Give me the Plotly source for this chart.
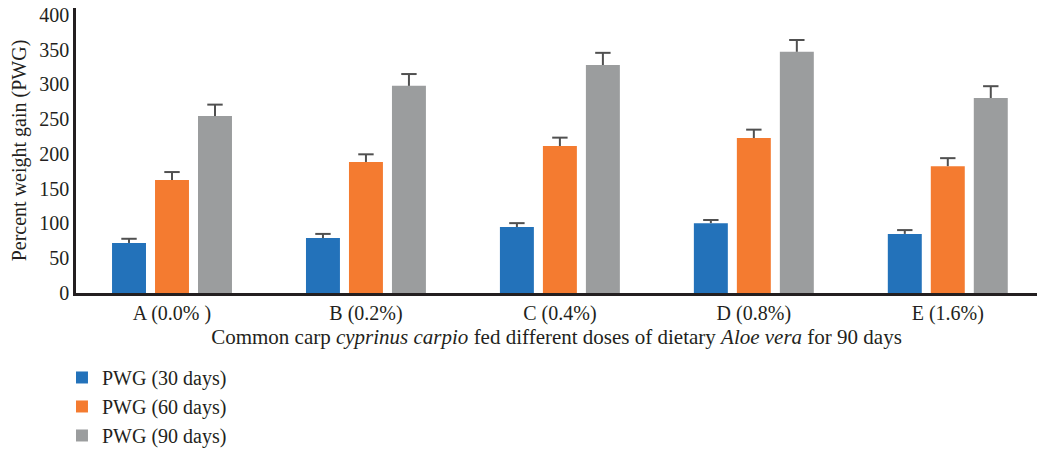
import plotly.graph_objects as go

categories = ["A (0.0% )", "B (0.2%)", "C (0.4%)", "D (0.8%)", "E (1.6%)"]
series_names = ["PWG (30 days)", "PWG (60 days)", "PWG (90 days)"]
pwg_30 = [72, 79, 95, 100.5, 85]
pwg_60 = [162.5, 188.5, 211.5, 223, 182.5]
pwg_90 = [254.5, 298, 328, 347, 280.5]
err_30 = [6, 6, 5.5, 4.5, 5.5]
err_60 = [11.5, 11, 12, 12, 11.5]
err_90 = [16.5, 17, 17.5, 17, 17]
colors = ["#2372BA", "#F47B30", "#9B9D9E"]

FONT = "Liberation Serif"
x_idx = list(range(len(categories)))
ERR_COLOR = "#505050"

fig = go.Figure()
for i, (name, vals, errs, col) in enumerate(zip(series_names, [pwg_30, pwg_60, pwg_90],
                                                [err_30, err_60, err_90], colors)):
    fig.add_trace(go.Bar(
        x=x_idx, y=vals, name=name, offsetgroup=str(i),
        marker=dict(color=col, line=dict(width=0)),
        error_y=dict(type="data", array=errs, arrayminus=[0] * len(errs), symmetric=False,
                     color=ERR_COLOR, thickness=2, width=0),
    ))
for i, (vals, errs) in enumerate(zip([pwg_30, pwg_60, pwg_90], [err_30, err_60, err_90])):
    fig.add_trace(go.Scatter(
        x=x_idx, y=[v + e for v, e in zip(vals, errs)], mode="markers",
        offsetgroup=str(i), showlegend=False, hoverinfo="skip",
        marker=dict(symbol="line-ew-open", size=11, color=ERR_COLOR,
                    line=dict(width=2, color=ERR_COLOR)),
    ))

fig.update_layout(
    width=1039, height=449,
    margin=dict(l=76, r=2, t=8, b=156, autoexpand=False),
    paper_bgcolor="white", plot_bgcolor="white",
    barmode="group", bargap=0.335, bargroupgap=0.21,
    scattermode="group", scattergap=0.335,
    font=dict(family=FONT, size=20, color="#231F20"),
    xaxis=dict(
        tickmode="array", tickvals=x_idx, ticktext=categories,
        range=[-0.495, 4.46], showline=True, linecolor="#231F20", linewidth=2.5,
        showgrid=False, ticks="", tickfont=dict(size=20),
        title=dict(text="Common carp <i>cyprinus carpio</i> fed different doses of dietary <i>Aloe vera</i> for 90 days",
                   font=dict(size=21), standoff=4),
    ),
    yaxis=dict(
        range=[0, 410], tickvals=[0, 50, 100, 150, 200, 250, 300, 350, 400],
        showline=True, linecolor="#231F20", linewidth=2.5, showgrid=False,
        ticks="", zeroline=False, tickfont=dict(size=20),
        title=dict(text="Percent weight gain (PWG)", font=dict(size=20), standoff=8),
    ),
    legend=dict(x=-0.0146, y=-0.2280, xanchor="left", yanchor="top",
                orientation="v", font=dict(size=20), bgcolor="rgba(0,0,0,0)"),
    showlegend=True,
)

fig.write_html("out.html")
